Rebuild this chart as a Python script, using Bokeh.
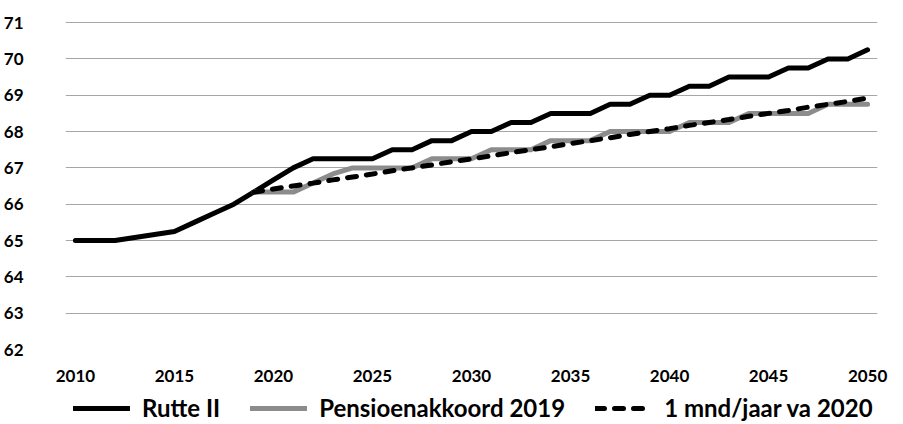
from bokeh.plotting import figure
from bokeh.layouts import column
from bokeh.models import Range1d, FixedTicker, Legend, LegendItem
from bokeh.embed import file_html
from bokeh.resources import INLINE

# ---------------- data ----------------
years = list(range(2010, 2051))
rutte_ii = [65.0, 65.0, 65.0, 65.083, 65.167, 65.25, 65.5, 65.75, 66.0, 66.333,
            66.667, 67.0, 67.25, 67.25, 67.25, 67.25, 67.5, 67.5, 67.75, 67.75,
            68.0, 68.0, 68.25, 68.25, 68.5, 68.5, 68.5, 68.75, 68.75, 69.0,
            69.0, 69.25, 69.25, 69.5, 69.5, 69.5, 69.75, 69.75, 70.0, 70.0,
            70.25]

years_from_2019 = list(range(2019, 2051))
pensioenakkoord_2019 = [66.333, 66.333, 66.333, 66.583, 66.833, 67.0, 67.0, 67.0,
                        67.0, 67.25, 67.25, 67.25, 67.5, 67.5, 67.5, 67.75,
                        67.75, 67.75, 68.0, 68.0, 68.0, 68.0, 68.25, 68.25,
                        68.25, 68.5, 68.5, 68.5, 68.5, 68.75, 68.75, 68.75]
een_mnd_per_jaar = [66.33, 66.42, 66.5, 66.58, 66.67, 66.75, 66.83, 66.92,
                    67.0, 67.08, 67.17, 67.25, 67.33, 67.42, 67.5, 67.58,
                    67.67, 67.75, 67.83, 67.92, 68.0, 68.08, 68.17, 68.25,
                    68.33, 68.42, 68.5, 68.58, 68.67, 68.75, 68.83, 68.92]

x_ticks = [2010, 2015, 2020, 2025, 2030, 2035, 2040, 2045, 2050]
y_ticks = [62, 63, 64, 65, 66, 67, 68, 69, 70, 71]
series_names = ["Rutte II", "Pensioenakkoord 2019", "1 mnd/jaar va 2020"]

FONT = "Lato"
series = [(years, rutte_ii), (years_from_2019, pensioenakkoord_2019),
          (years_from_2019, een_mnd_per_jaar)]
styles = [dict(line_color="black", line_width=5, line_join="round", line_cap="round"),
          dict(line_color="#8c8c8c", line_width=5, line_join="round", line_cap="round"),
          dict(line_color="black", line_width=5, line_dash="9 10", line_cap="round")]

# ---------------- main chart ----------------
fig = figure(frame_width=812, frame_height=328,
             output_backend="svg", toolbar_location=None,
             x_range=Range1d(2009.5, 2050.5), y_range=Range1d(62, 71.03),
             min_border_left=59, min_border_right=16, min_border_top=21,
             min_border_bottom=40)
fig.outline_line_color = None
fig.background_fill_color = "white"
fig.border_fill_color = "white"

for (xs, ys), s in zip(series, styles):
    fig.line(xs, ys, **s)

fig.xgrid.grid_line_color = None
fig.ygrid.ticker = FixedTicker(ticks=y_ticks)
fig.ygrid.grid_line_color = "#a6a6a6"
fig.ygrid.grid_line_width = 1

for ax in (fig.xaxis[0], fig.yaxis[0]):
    ax.axis_line_color = None
    ax.major_tick_line_color = None
    ax.minor_tick_line_color = None
    ax.major_label_text_font = FONT
    ax.major_label_text_font_size = "17px"
    ax.major_label_text_font_style = "bold"
    ax.major_label_text_color = "black"

fig.xaxis.ticker = FixedTicker(ticks=x_ticks)
fig.yaxis.ticker = FixedTicker(ticks=y_ticks)
fig.xaxis.major_label_standoff = 14
fig.yaxis.major_label_standoff = 36

# ---------------- legend strip ----------------
# same series drawn outside this strip's visible range; only the legend shows
leg_fig = figure(frame_width=812, height=34, output_backend="svg",
                 toolbar_location=None,
                 x_range=Range1d(0, 1), y_range=Range1d(0, 1),
                 x_axis_location=None, y_axis_location=None,
                 min_border_left=59, min_border_right=16,
                 min_border_top=0, min_border_bottom=0)
leg_fig.outline_line_color = None
leg_fig.grid.visible = False
leg_fig.background_fill_color = "white"
leg_fig.border_fill_color = "white"
leg_renderers = [leg_fig.line(xs, ys, **s) for (xs, ys), s in zip(series, styles)]

legend = Legend(items=[LegendItem(label=n, renderers=[r])
                       for n, r in zip(series_names, leg_renderers)],
                orientation="horizontal", location=(8, 1),
                label_text_font=FONT, label_text_font_size="24px",
                label_text_font_style="bold",
                label_text_color="black",
                glyph_width=57, glyph_height=20, label_height=20,
                label_standoff=12, spacing=30, padding=0, margin=0,
                border_line_color=None, background_fill_alpha=0)
leg_fig.add_layout(legend, "center")

p = column(fig, leg_fig, spacing=0)

open("out.html", "w").write(file_html(p, INLINE))
